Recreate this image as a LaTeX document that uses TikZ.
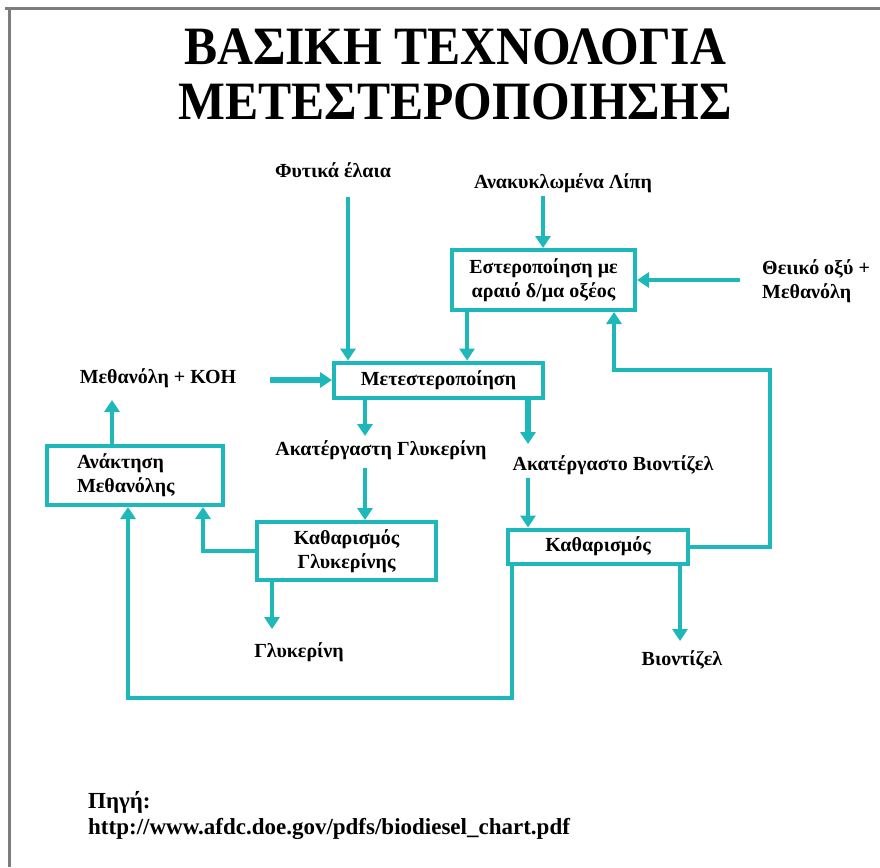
\documentclass[tikz,border=0pt]{standalone}
\usepackage{fontspec}
\setmainfont{Liberation Serif}
\usetikzlibrary{arrows.meta}
\definecolor{flowteal}{RGB}{30,184,186}
\definecolor{framegray}{RGB}{125,125,125}
\begin{document}
\begin{tikzpicture}[x=1pt,y=-1pt,
  lbl/.style={font=\bfseries\fontsize{20}{24}\selectfont, inner sep=0pt, align=center},
  lbll/.style={lbl, align=left},
  procbox/.style={draw=flowteal, line width=4pt, inner sep=0pt, align=center,
    font=\bfseries\fontsize{20}{24}\selectfont},
  flow/.style={draw=flowteal, line width=4pt, -{Triangle[length=12pt,width=15pt]}},
  flowthick/.style={flow, line width=6pt},
  titlefont/.style={font=\bfseries\fontsize{54}{54}\selectfont, inner sep=0pt}]
\useasboundingbox (0,0) rectangle (880,867);
\fill[white] (0,0) rectangle (880,867);
% page frame (top and left edges)
\draw[framegray, line width=3pt] (5,8.5) -- (880,8.5);
\draw[framegray, line width=3pt] (9.5,7) -- (9.5,867);

% title
\node[titlefont] (t1) at (455,47) {\scalebox{0.92}[1]{ΒΑΣΙΚΗ ΤΕΧΝΟΛΟΓΙΑ}};
\node[titlefont] (t2) at (455,102) {\scalebox{0.92}[1]{ΜΕΤΕΣΤΕΡΟΠΟΙΗΣΗΣ}};

% process boxes
\node[procbox, minimum width=183pt, minimum height=60pt] (est) at (543.5,280) {Εστεροποίηση με\\ αραιό δ/μα οξέος};
\node[procbox, minimum width=209pt, minimum height=35pt] (met) at (438.5,380) {Μετεστεροποίηση};
\node[procbox, minimum width=176pt, minimum height=59pt, align=left, text width=116pt] (anak) at (135,475.5) {Ανάκτηση\\Μεθανόλης};
\node[procbox, minimum width=179pt, minimum height=58pt] (kathg) at (346.5,551) {Καθαρισμός\\Γλυκερίνης};
\node[procbox, minimum width=180pt, minimum height=34pt] (kath) at (598,546.5) {Καθαρισμός};

% stream labels
\node[lbl] (phyt) at (333,170) {Φυτικά έλαια};
\node[lbl] (rec) at (563,183) {Ανακυκλωμένα Λίπη};
\node[lbll, anchor=west] (acid) at (762,281) {Θειικό οξύ +\\Μεθανόλη};
\node[lbl] (koh) at (158,378) {Μεθανόλη + ΚΟΗ};
\node[lbl] (cgly) at (381,450) {Ακατέργαστη Γλυκερίνη};
\node[lbl] (cbio) at (613,465) {Ακατέργαστο Βιοντίζελ};
\node[lbl] (gly) at (299,652) {Γλυκερίνη};
\node[lbl] (bio) at (682,660) {Βιοντίζελ};

% source note
\node[lbll, anchor=north west, font=\bfseries\fontsize{23}{26}\selectfont] (src) at (88,791) {Πηγή:\\http://www.afdc.doe.gov/pdfs/biodiesel\_chart.pdf};

% reference points for connectors
\coordinate (a1) at (348,197);
\coordinate (a2) at (543,196);
\coordinate (a3) at (740,280);
\coordinate (x467) at (467,0);
\coordinate (r1) at (770,370);
\coordinate (x614) at (614,0);
\coordinate (k1) at (270,380);
\coordinate (x112) at (112,0);
\coordinate (m1) at (112,400);
\coordinate (x365) at (365,0);
\coordinate (g1) at (365,436);
\coordinate (g2) at (365,468);
\coordinate (x528) at (528,0);
\coordinate (b1) at (528,444);
\coordinate (b2) at (528,478);
\coordinate (x203) at (203,0);
\coordinate (x272) at (272,0);
\coordinate (g3) at (272,629);
\coordinate (x680) at (680,0);
\coordinate (b3) at (680,641);
\coordinate (x512) at (512,0);
\coordinate (l1) at (128,698);

% flows
\draw[flow] (a1) -- (a1 |- met.north);
\draw[flow] (a2) -- (a2 |- est.north);
\draw[flow] (a3) -- (a3 -| est.east);
\draw[flow] (est.south -| x467) -- (met.north -| x467);
\draw[flow] (kath.east) -| (r1) -| (est.south -| x614);
\draw[flowthick] (k1) -- (met.west);
\draw[flow] (anak.north -| x112) -- (m1);
\draw[flow] (met.south -| x365) -- (g1);
\draw[flow] (g2) -- (kathg.north -| x365);
\draw[flowthick] (met.south -| x528) -- (b1);
\draw[flow] (b2) -- (kath.north -| x528);
\draw[flow] (kathg.west) -| (anak.south -| x203);
\draw[flow] (kathg.south -| x272) -- (g3);
\draw[flow] (kath.south -| x680) -- (b3);
\draw[flow] (kath.south -| x512) |- (l1) -- (anak.south -| l1);
\end{tikzpicture}
\end{document}
